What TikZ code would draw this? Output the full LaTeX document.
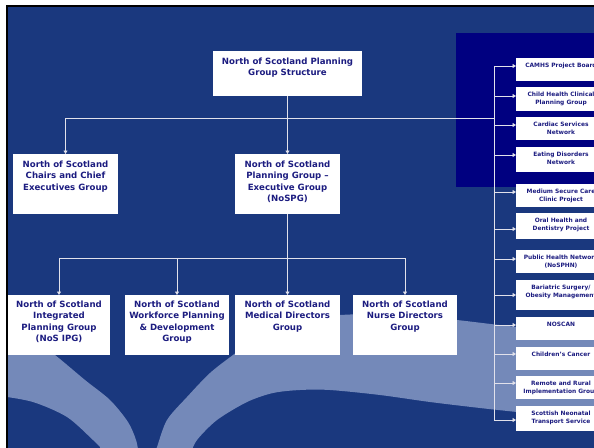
\documentclass[tikz,border=0pt]{standalone}
\usepackage{fontspec}
\setmainfont{DejaVu Sans}
\usetikzlibrary{arrows.meta}
\definecolor{bgblue}{RGB}{26,56,126}
\definecolor{wavec}{RGB}{116,137,185}
\definecolor{navyc}{RGB}{0,0,128}
\definecolor{txtc}{RGB}{28,28,128}
\definecolor{linec}{RGB}{225,225,235}
\newcommand{\bxt}[4]{\parbox[c][#2][t]{#1}{\centering\vspace*{#3}#4\par}}
\begin{document}
\begin{tikzpicture}[x=1pt,y=-1pt,
  big/.style={fill=white, inner sep=0pt, outer sep=0pt, anchor=north west, text=txtc,
    font=\fontsize{8.6}{11.5}\selectfont\bfseries},
  small/.style={fill=white, inner sep=0pt, outer sep=0pt, anchor=north west, text=txtc,
    font=\fontsize{5.9}{7.7}\selectfont\bfseries},
  ln/.style={draw=linec, line width=0.8pt},
  arr/.style={draw=linec, line width=0.8pt, -{Triangle[length=3.5pt,width=4pt]}}]
\useasboundingbox (0,0) rectangle (594,447);
\clip (0,0) rectangle (594,447);
\fill[white] (0,0) rectangle (594,447);
\fill[black] (5.5,5) rectangle (600,455);
\fill[bgblue] (8,7) rectangle (600,455);
% background waves
\begin{scope}
\clip (8,7) rectangle (600,455);
\fill[wavec] plot[smooth] coordinates {(0,322) (30,337) (55,355) (85,380) (110,400) (128,422) (136,440) (139,455)}
  -- (102,455) -- plot[smooth] coordinates {(100,447) (93,440) (67,417) (33,402) (0,396)} -- cycle;
\fill[wavec] plot[smooth] coordinates {(154,455) (157,447) (167,420) (187,397) (210,373) (233,355) (262,334) (300,320) (340,315) (400,314) (457,320) (517,327) (600,335)}
  -- (600,419) -- plot[smooth] coordinates {(517,412) (480,408) (430,402) (380,395) (330,390) (300,390) (273,393) (247,402) (217,420) (197,440) (190,455)} -- cycle;
\end{scope}
% dark panel
\fill[navyc] (456,33) rectangle (600,187);

% main nodes
\node[big] (top) at (213,51) {\bxt{149pt}{45pt}{6.5pt}{North of Scotland Planning\\Group Structure}};
\node[big] (chairs) at (13,154) {\bxt{105pt}{60pt}{6.5pt}{North of Scotland\\Chairs and Chief\\Executives Group}};
\node[big] (nospg) at (235,154) {\bxt{105pt}{60pt}{6.5pt}{North of Scotland\\Planning Group --\\Executive Group\\(NoSPG)}};
\node[big] (ipg) at (8,295) {\bxt{102pt}{60pt}{5.5pt}{North of Scotland\\Integrated\\Planning Group\\(NoS IPG)}};
\node[big] (wf) at (125,295) {\bxt{104pt}{60pt}{5.5pt}{North of Scotland\\Workforce Planning\\\& Development\\Group}};
\node[big] (med) at (235,295) {\bxt{105pt}{60pt}{5.5pt}{North of Scotland\\Medical Directors\\Group}};
\node[big] (nurse) at (353,295) {\bxt{104pt}{60pt}{5.5pt}{North of Scotland\\Nurse Directors\\Group}};

% right column nodes
\node[small] (r1) at (516,58) {\bxt{90pt}{23pt}{5.5pt}{CAMHS Project Board}};
\node[small] (r2) at (516,87) {\bxt{90pt}{24pt}{5.5pt}{Child Health Clinical\\Planning Group}};
\node[small] (r3) at (516,117) {\bxt{90pt}{23pt}{5.5pt}{Cardiac Services\\Network}};
\node[small] (r4) at (516,147) {\bxt{90pt}{25pt}{5.5pt}{Eating Disorders\\Network}};
\node[small] (r5) at (516,184) {\bxt{90pt}{23pt}{5.5pt}{Medium Secure Care\\Clinic Project}};
\node[small] (r6) at (516,213) {\bxt{90pt}{26pt}{5.5pt}{Oral Health and\\Dentistry Project}};
\node[small] (r7) at (516,250) {\bxt{90pt}{23pt}{5.5pt}{Public Health Network\\(NoSPHN)}};
\node[small] (r8) at (516,280) {\bxt{90pt}{30pt}{5.5pt}{Bariatric Surgery/\\Obesity Management}};
\node[small] (r9) at (516,317) {\bxt{90pt}{23pt}{5.5pt}{NOSCAN}};
\node[small] (r10) at (516,347) {\bxt{90pt}{23pt}{5.5pt}{Children's Cancer}};
\node[small] (r11) at (516,376) {\bxt{90pt}{23pt}{5.5pt}{Remote and Rural\\Implementation Group}};
\node[small] (r12) at (516,406) {\bxt{90pt}{25pt}{5.5pt}{Scottish Neonatal\\Transport Service}};

% connectors
\coordinate (h1) at (287.5,118);
\coordinate (tr) at (494,66);
\coordinate (trb) at (494,420);
\draw[ln] (h1 -| chairs.north) -- (h1 -| tr);
\draw[arr] (h1 -| chairs.north) -- (chairs.north);
\draw[arr] (top.south) -- (nospg.north);
\draw[ln] (tr) -- (trb);
\coordinate (h2) at (287.5,258);
\draw[ln] (nospg.south) -- (h2);
\draw[ln] (h2 -| ipg.north) -- (h2 -| nurse.north);
\draw[arr] (h2 -| ipg.north) -- (ipg.north);
\draw[arr] (h2 -| wf.north) -- (wf.north);
\draw[arr] (h2 -| med.north) -- (med.north);
\draw[arr] (h2 -| nurse.north) -- (nurse.north);

\coordinate (a1) at ([yshift=3.5pt]r1.west);
\coordinate (a2) at ([yshift=3pt]r2.west);
\coordinate (a3) at ([yshift=3.5pt]r3.west);
\coordinate (a4) at ([yshift=4.5pt]r4.west);
\coordinate (a5) at ([yshift=3.5pt]r5.west);
\coordinate (a6) at ([yshift=-3pt]r6.west);
\coordinate (a7) at ([yshift=2.5pt]r7.west);
\coordinate (a8) at ([yshift=0pt]r8.west);
\coordinate (a9) at ([yshift=3.5pt]r9.west);
\coordinate (a10) at ([yshift=4.5pt]r10.west);
\coordinate (a11) at ([yshift=4.5pt]r11.west);
\coordinate (a12) at ([yshift=-1.5pt]r12.west);
\foreach \i in {1,...,12} {\draw[arr] (tr |- a\i) -- (a\i);}
\end{tikzpicture}
\end{document}
